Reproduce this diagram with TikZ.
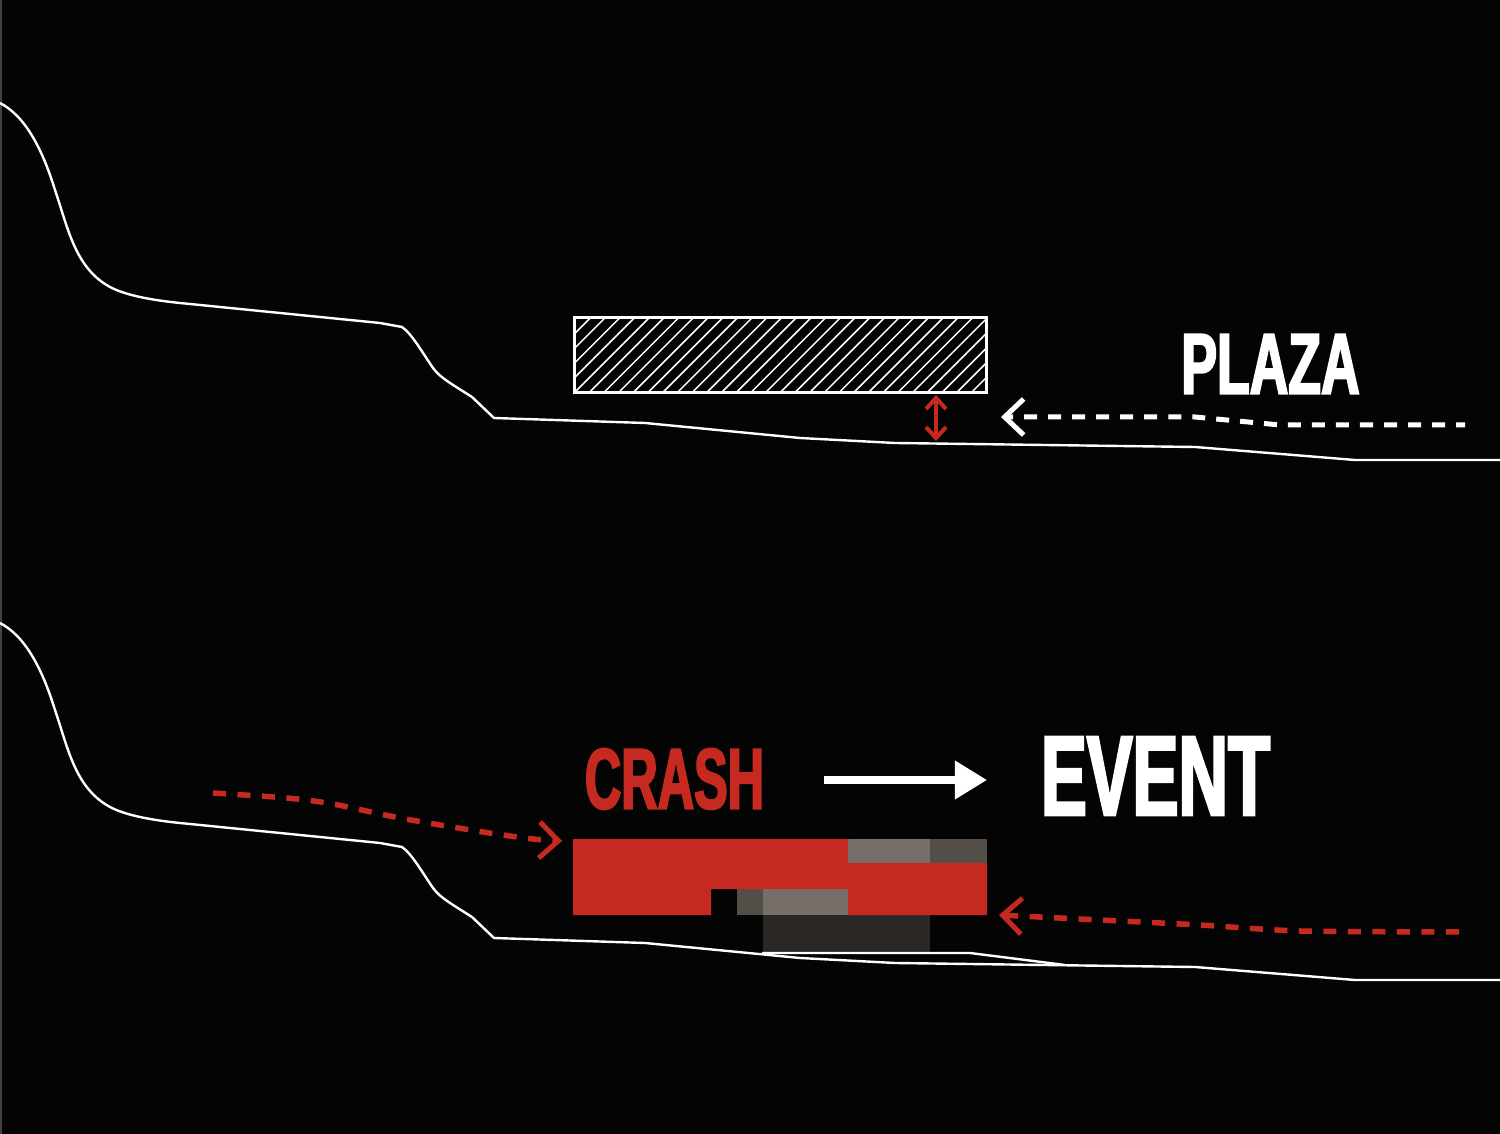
\documentclass[tikz,border=0pt]{standalone}
\usepackage{fontspec}
\usetikzlibrary{arrows.meta}
\newfontfamily\signfont[FakeStretch=0.6,FakeBold=2.2]{Liberation Sans Bold}
\definecolor{nightbg}{HTML}{040404}
\definecolor{crashred}{HTML}{C62920}
\definecolor{greylight}{HTML}{766F69}
\definecolor{greymid}{HTML}{544E49}
\definecolor{greydark}{HTML}{2B2724}
\definecolor{edgegrey}{HTML}{45413E}
\begin{document}
\begin{tikzpicture}[
  x=0.01cm, y=-0.01cm,
  chevron/.tip={Straight Barb[length=0.19cm, width=0.36cm, line width=0.05cm]},
  ground/.style={draw=white, line width=0.024cm, line join=round},
  pathwhite/.style={draw=white, line width=0.05cm, dash pattern=on 0.13cm off 0.11cm, dash phase=0.07cm, {chevron}-},
  pathred/.style={draw=crashred, line width=0.055cm, dash pattern=on 0.13cm off 0.115cm},
  sign/.style={inner sep=0pt, anchor=center},
]
  % Background
  \fill[nightbg] (0,0) rectangle (1500,1134);
  \useasboundingbox (0,0) rectangle (1500,1134);
  \fill[edgegrey] (0,0) rectangle (2,1134);

  % Ground lines, PLAZA (top) and EVENT (bottom)
  \foreach \dy in {0,520} {
    \begin{scope}[yshift=-\dy*0.01cm]
      \draw[ground] (0,103) .. controls (25,116) and (42,148) .. (55,190)
        .. controls (68,228) and (75,268) .. (110,287)
        .. controls (125,295) and (150,300) .. (180,303)
        -- (260,311) -- (380,323) -- (402,327)
        .. controls (412,334) and (422,352) .. (433,368)
        .. controls (440,378) and (455,386) .. (472,397)
        -- (494,418) -- (645,423) -- (800,438) -- (895,443) -- (1195,447) -- (1355,460) -- (1500,460);
    \end{scope}
  }

  % Plaza block
  \begin{scope}
    \clip (574,317) rectangle (986,391);
    \foreach \k in {-6,...,28}
      \draw[white, line width=0.015cm] (577+14.7*\k-88,478) -- ++(200,-200);
  \end{scope}
  \node[draw=white, line width=0.03cm, fill=none, minimum width=4.12cm, minimum height=0.75cm, inner sep=0pt, anchor=north west] (plazablock) at (573,316) {};

  % Labels
  \node[sign, white, xscale=1.035, font=\signfont\fontsize{24.5}{24.5}\selectfont] (plaza) at (1270.5,364) {PLAZA};
  \node[sign, crashred, xscale=0.975, font=\signfont\fontsize{24.5}{24.5}\selectfont] (crash) at (674.5,779) {CRASH};
  \node[sign, white, xscale=1.005, font=\signfont\fontsize{32.4}{32.4}\selectfont] (event) at (1155.5,776) {EVENT};

  % Event block
  \fill[greydark] (762.5,915) rectangle (930,953);
  \fill[greylight] (848,839) rectangle (930,863);
  \fill[greymid] (930,839) rectangle (987,863);
  \fill[greymid] (736.5,889) rectangle (762.5,915);
  \fill[greylight] (762.5,889) rectangle (848,915);
  \fill[crashred] (573,839) -- (848,839) -- (848,863) -- (987,863) -- (987,915) -- (848,915) -- (848,889) -- (711,889) -- (711,915) -- (573,915) -- cycle;
  \draw[ground] (762,953) -- (970,953) -- (1065,965);

  % Clearance arrow
  \coordinate (gaptop) at (936,395);
  \coordinate (gapbot) at (936,441);
  \draw[crashred, line width=0.04cm, {Straight Barb[length=0.11cm, width=0.2cm]}-{Straight Barb[length=0.11cm, width=0.2cm]}] (gaptop) -- (gapbot);

  % Crash to event
  \coordinate (flowa) at (824,780);
  \coordinate (flowb) at (987,780);
  \draw[white, line width=0.07cm, -{Triangle[length=0.32cm, width=0.37cm]}] (flowa) -- (flowb);

  % Flows
  \draw[pathwhite] plot coordinates {(1001,417) (1195,417) (1280,425) (1465,425)};
  \draw[pathred, {chevron}-] plot[smooth, tension=0.4] coordinates {(999,915) (1100,920) (1200,925) (1300,931) (1465,932)};
  \draw[pathred, -{chevron}] plot[smooth, tension=0.5] coordinates {(213,793) (287,798) (333,804) (400,818) (483,832) (533,839) (562,841)};
\end{tikzpicture}
\end{document}
